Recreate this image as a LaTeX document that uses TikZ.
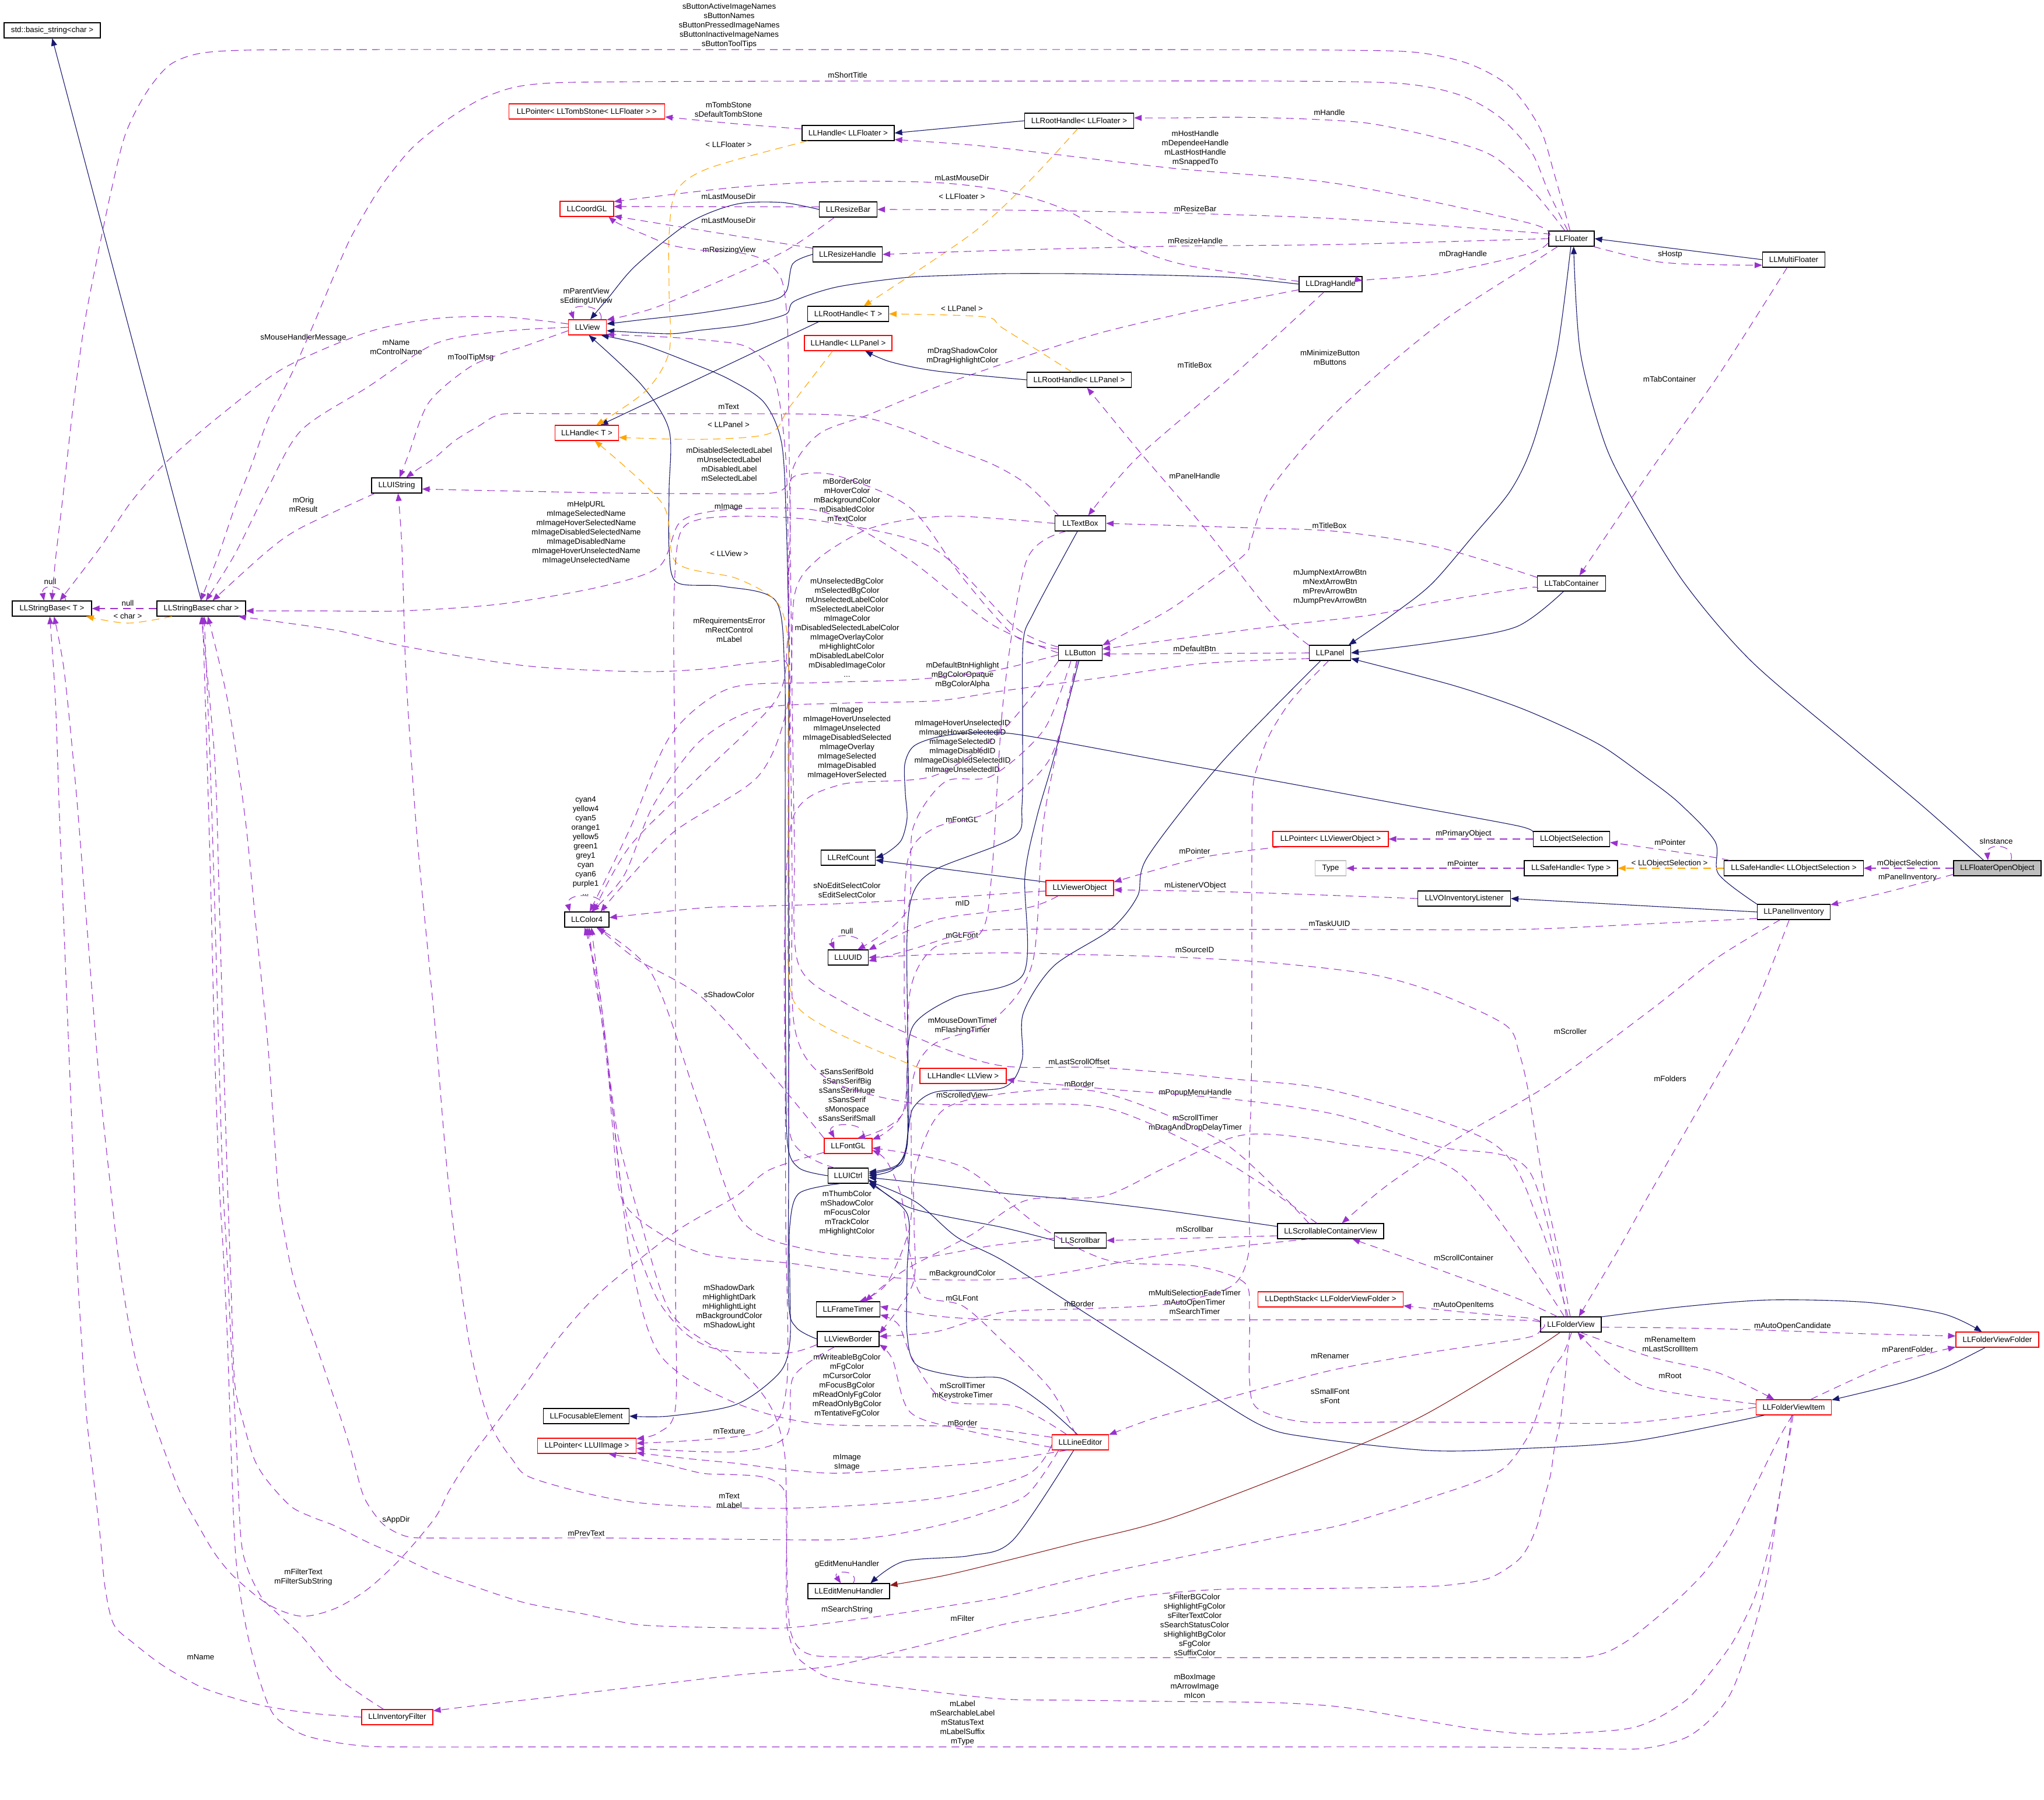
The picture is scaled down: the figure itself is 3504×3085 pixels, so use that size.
\documentclass[tikz,border=0pt]{standalone}
\usepackage{fontspec}
\setmainfont{Liberation Sans}
\usetikzlibrary{arrows.meta}
\definecolor{inhc}{HTML}{191970}
\definecolor{memc}{HTML}{9A32CD}
\definecolor{tplc}{HTML}{FFA500}
\definecolor{prvc}{HTML}{8B1A1A}
\definecolor{grayc}{HTML}{BFBFBF}
\tikzset{
 cls/.style={draw=black, line width=1.1pt, minimum height=26pt, inner sep=0pt, font=\fontsize{13.3}{16}\selectfont},
 clsr/.style={cls, draw=red},
 lbl/.style={font=\fontsize{13.3}{16}\selectfont, align=center, inner sep=0pt},
 ahead/.style={-{Triangle[length=13pt,width=10pt]}},
 inh/.style={draw=inhc, line width=1.1pt, ahead},
 prv/.style={draw=prvc, line width=1.1pt, ahead},
 mem/.style={draw=memc, line width=1.1pt, dash pattern=on 13pt off 9pt, ahead},
 tpl/.style={draw=tplc, line width=1.1pt, dash pattern=on 13pt off 9pt, ahead},
 sm/.style={smooth, tension=0.5}
}
\begin{document}
\begin{tikzpicture}[x=1pt,y=-1pt]
\useasboundingbox (0,0) rectangle (3504,3085);
\fill[white] (0,0) rectangle (3504,3085);

% ---------------- nodes
\node[cls,minimum width=165] (stdstr) at (89.5,52) {std::basic\_string<char >};
\node[cls,minimum width=136] (SBT) at (89,1043) {LLStringBase< T >};
\node[cls,minimum width=152] (SBC) at (345,1043) {LLStringBase< char >};
\node[cls,minimum width=86] (UIStr) at (680,832) {LLUIString};
\node[clsr,minimum width=267] (TombPtr) at (1006,191) {LLPointer< LLTombStone< LLFloater > >};
\node[cls,minimum width=158] (HFloater) at (1454,228) {LLHandle< LLFloater >};
\node[cls,minimum width=187] (RHFloater) at (1850,207) {LLRootHandle< LLFloater >};
\node[clsr,minimum width=92] (CoordGL) at (1006,358) {LLCoordGL};
\node[cls,minimum width=99] (ResizeBar) at (1454,359) {LLResizeBar};
\node[cls,minimum width=119] (ResizeHandle) at (1453,436) {LLResizeHandle};
\node[clsr,minimum width=65] (View) at (1007,561) {LLView};
\node[cls,minimum width=139] (RHT) at (1454,538) {LLRootHandle< T >};
\node[clsr,minimum width=150] (HPanel) at (1454,588) {LLHandle< LLPanel >};
\node[clsr,minimum width=109] (HT) at (1006,742) {LLHandle< T >};
\node[cls,minimum width=78] (Floater) at (2694,409) {LLFloater};
\node[cls,minimum width=107] (MultiFloater) at (3075,445) {LLMultiFloater};
\node[cls,minimum width=108] (DragHandle) at (2281,487) {LLDragHandle};
\node[cls,minimum width=179] (RHPanel) at (1850,651) {LLRootHandle< LLPanel >};
\node[cls,minimum width=87] (TextBox) at (1852,897) {LLTextBox};
\node[cls,minimum width=117] (TabContainer) at (2694,1000) {LLTabContainer};
\node[cls,minimum width=75] (Button) at (1852,1119) {LLButton};
\node[cls,minimum width=71] (Panel) at (2280,1119) {LLPanel};
\node[cls,minimum width=76] (Color4) at (1006,1576) {LLColor4};
\node[cls,minimum width=93] (RefCount) at (1454,1470) {LLRefCount};
\node[cls,minimum width=69] (UUID) at (1454,1641) {LLUUID};
\node[clsr,minimum width=198] (PtrVO) at (2281,1438) {LLPointer< LLViewerObject >};
\node[cls,draw=grayc,minimum width=53] (Type) at (2281,1488) {Type};
\node[cls,minimum width=159] (VOListener) at (2510,1540) {LLVOInventoryListener};
\node[clsr,minimum width=116] (ViewerObject) at (1851,1522) {LLViewerObject};
\node[cls,minimum width=131] (ObjSel) at (2694,1438) {LLObjectSelection};
\node[cls,minimum width=160] (SHType) at (2693,1488) {LLSafeHandle< Type >};
\node[cls,minimum width=239] (SHObj) at (3075,1488) {LLSafeHandle< LLObjectSelection >};
\node[cls,fill=grayc,minimum width=150] (FOO) at (3424,1488) {LLFloaterOpenObject};
\node[cls,minimum width=125] (PanelInv) at (3075,1563) {LLPanelInventory};
\node[clsr,minimum width=148] (HView) at (1651,1844) {LLHandle< LLView >};
\node[clsr,minimum width=82] (FontGL) at (1454,1964) {LLFontGL};
\node[cls,minimum width=69] (UICtrl) at (1454,2015) {LLUICtrl};
\node[cls,minimum width=182] (ScrollCont) at (2281,2110) {LLScrollableContainerView};
\node[cls,minimum width=89] (Scrollbar) at (1852,2126) {LLScrollbar};
\node[cls,minimum width=109] (FrameTimer) at (1454,2244) {LLFrameTimer};
\node[clsr,minimum width=249] (DepthStack) at (2281,2227) {LLDepthStack< LLFolderViewFolder >};
\node[cls,minimum width=106] (ViewBorder) at (1454,2295) {LLViewBorder};
\node[cls,minimum width=104] (FolderView) at (2693,2270) {LLFolderView};
\node[clsr,minimum width=142] (FVFolder) at (3424,2296) {LLFolderViewFolder};
\node[cls,minimum width=147] (Focusable) at (1005,2427) {LLFocusableElement};
\node[clsr,minimum width=169] (UIImagePtr) at (1006,2478) {LLPointer< LLUIImage >};
\node[clsr,minimum width=97] (LineEditor) at (1852,2472) {LLLineEditor};
\node[clsr,minimum width=129] (FVItem) at (3075,2412) {LLFolderViewItem};
\node[cls,minimum width=140] (EditMenu) at (1455,2727) {LLEditMenuHandler};
\node[clsr,minimum width=122] (InvFilter) at (681,2943) {LLInventoryFilter};

% ---------------- labels
\node[lbl] (Lsbtn) at (1250,44) {sButtonActiveImageNames\\sButtonNames\\sButtonPressedImageNames\\sButtonInactiveImageNames\\sButtonToolTips};
\node[lbl] (Lshort) at (1453,129) {mShortTitle};
\node[lbl] (Ltomb) at (1249,188) {mTombStone\\sDefaultTombStone};
\node[lbl] (Ltf1) at (1249,248) {< LLFloater >};
\node[lbl] (Lhand) at (2279,193) {mHandle};
\node[lbl] (Lhost) at (2049,254) {mHostHandle\\mDependeeHandle\\mLastHostHandle\\mSnappedTo};
\node[lbl] (Llmd1) at (1649,305) {mLastMouseDir};
\node[lbl] (Ltf2) at (1649,337) {< LLFloater >};
\node[lbl] (Llmd2) at (1249,337) {mLastMouseDir};
\node[lbl] (Llmd3) at (1249,378) {mLastMouseDir};
\node[lbl] (Lrbar) at (2049,358) {mResizeBar};
\node[lbl] (Lrhan) at (2049,413) {mResizeHandle};
\node[lbl] (Lrview) at (1250,429) {mResizingView};
\node[lbl] (Ldrag) at (2508,436) {mDragHandle};
\node[lbl] (Lhostp) at (2863,436) {sHostp};
\node[lbl] (Lparent) at (1005,508) {mParentView\\sEditingUIView};
\node[lbl] (Ltp1) at (1649,529) {< LLPanel >};
\node[lbl] (Lsmh) at (520,579) {sMouseHandlerMessage};
\node[lbl] (Lname) at (679,595) {mName\\mControlName};
\node[lbl] (Ldsc) at (1650,610) {mDragShadowColor\\mDragHighlightColor};
\node[lbl] (Ltip) at (807,613) {mToolTipMsg};
\node[lbl] (Lmini) at (2280,613) {mMinimizeButton\\mButtons};
\node[lbl] (Ltitle1) at (2048,626) {mTitleBox};
\node[lbl] (Ltabc) at (2862,650) {mTabContainer};
\node[lbl] (Ltext1) at (1249,697) {mText};
\node[lbl] (Ltp2) at (1249,728) {< LLPanel >};
\node[lbl] (Ldsl) at (1250,796) {mDisabledSelectedLabel\\mUnselectedLabel\\mDisabledLabel\\mSelectedLabel};
\node[lbl] (Lpanelh) at (2048,816) {mPanelHandle};
\node[lbl] (Lbcol) at (1452,857) {mBorderColor\\mHoverColor\\mBackgroundColor\\mDisabledColor\\mTextColor};
\node[lbl] (Lorig) at (520,865) {mOrig\\mResult};
\node[lbl] (Limage1) at (1249,869) {mImage};
\node[lbl] (Ltitle2) at (2279,901) {mTitleBox};
\node[lbl] (Lhelp) at (1005,913) {mHelpURL\\mImageSelectedName\\mImageHoverSelectedName\\mImageDisabledSelectedName\\mImageDisabledName\\mImageHoverUnselectedName\\mImageUnselectedName};
\node[lbl] (Ltv) at (1250,949) {< LLView >};
\node[lbl] (Lnull1) at (86,997) {null};
\node[lbl] (Ljump) at (2280,1006) {mJumpNextArrowBtn\\mNextArrowBtn\\mPrevArrowBtn\\mJumpPrevArrowBtn};
\node[lbl] (Lnull2) at (219,1034) {null};
\node[lbl] (Lchar) at (219,1056) {< char >};
\node[lbl] (Lubg) at (1452,1076) {mUnselectedBgColor\\mSelectedBgColor\\mUnselectedLabelColor\\mSelectedLabelColor\\mImageColor\\mDisabledSelectedLabelColor\\mImageOverlayColor\\mHighlightColor\\mDisabledLabelColor\\mDisabledImageColor\\...};
\node[lbl] (Lreq) at (1250,1080) {mRequirementsError\\mRectControl\\mLabel};
\node[lbl] (Ldefbtn) at (2048,1112) {mDefaultBtn};
\node[lbl] (Ldbh) at (1650,1157) {mDefaultBtnHighlight\\mBgColorOpaque\\mBgColorAlpha};
\node[lbl] (Limagep) at (1452,1273) {mImagep\\mImageHoverUnselected\\mImageUnselected\\mImageDisabledSelected\\mImageOverlay\\mImageSelected\\mImageDisabled\\mImageHoverSelected};
\node[lbl] (Limgid) at (1650,1280) {mImageHoverUnselectedID\\mImageHoverSelectedID\\mImageSelectedID\\mImageDisabledID\\mImageDisabledSelectedID\\mImageUnselectedID};
\node[lbl] (Lfontgl) at (1649,1405) {mFontGL};
\node[lbl] (Lprim) at (2509,1429) {mPrimaryObject};
\node[lbl] (Lsinst) at (3422,1442) {sInstance};
\node[lbl] (Lptr3) at (2863,1444) {mPointer};
\node[lbl] (Lcyan) at (1004,1450) {cyan4\\yellow4\\cyan5\\orange1\\yellow5\\green1\\grey1\\cyan\\cyan6\\purple1\\...};
\node[lbl] (Lptr1) at (2048,1459) {mPointer};
\node[lbl] (Lptr2) at (2508,1480) {mPointer};
\node[lbl] (Llos) at (2862,1480) {< LLObjectSelection >};
\node[lbl] (Lobjsel) at (3270,1480) {mObjectSelection};
\node[lbl] (Lpaninv) at (3270,1504) {mPanelInventory};
\node[lbl] (Llvo) at (2049,1518) {mListenerVObject};
\node[lbl] (Lnesc) at (1452,1526) {sNoEditSelectColor\\sEditSelectColor};
\node[lbl] (Lmid) at (1650,1548) {mID};
\node[lbl] (Ltask) at (2279,1583) {mTaskUUID};
\node[lbl] (Lnull3) at (1452,1596) {null};
\node[lbl] (Lglfont1) at (1649,1603) {mGLFont};
\node[lbl] (Lsrcid) at (2048,1628) {mSourceID};
\node[lbl] (Lshadow) at (1250,1705) {sShadowColor};
\node[lbl] (Lmdt) at (1650,1758) {mMouseDownTimer\\mFlashingTimer};
\node[lbl] (Lscroller) at (2692,1768) {mScroller};
\node[lbl] (Llso) at (1850,1820) {mLastScrollOffset};
\node[lbl] (Lfolders) at (2863,1849) {mFolders};
\node[lbl] (Lborder1) at (1850,1858) {mBorder};
\node[lbl] (Lpmh) at (2049,1873) {mPopupMenuHandle};
\node[lbl] (Lsview) at (1649,1877) {mScrolledView};
\node[lbl] (Lsans) at (1452,1877) {sSansSerifBold\\sSansSerifBig\\sSansSerifHuge\\sSansSerif\\sMonospace\\sSansSerifSmall};
\node[lbl] (Lstimer) at (2049,1925) {mScrollTimer\\mDragAndDropDelayTimer};
\node[lbl] (Lthumb) at (1452,2079) {mThumbColor\\mShadowColor\\mFocusColor\\mTrackColor\\mHighlightColor};
\node[lbl] (Lsbar) at (2048,2107) {mScrollbar};
\node[lbl] (Lscont) at (2509,2156) {mScrollContainer};
\node[lbl] (Lbg) at (1650,2183) {mBackgroundColor};
\node[lbl] (Lglfont2) at (1649,2225) {mGLFont};
\node[lbl] (Lmsft) at (2048,2232) {mMultiSelectionFadeTimer\\mAutoOpenTimer\\mSearchTimer};
\node[lbl] (Lborder2) at (1850,2235) {mBorder};
\node[lbl] (Laoi) at (2509,2237) {mAutoOpenItems};
\node[lbl] (Lsdark) at (1250,2240) {mShadowDark\\mHighlightDark\\mHighlightLight\\mBackgroundColor\\mShadowLight};
\node[lbl] (Laoc) at (3073,2273) {mAutoOpenCandidate};
\node[lbl] (Lrename) at (2863,2304) {mRenameItem\\mLastScrollItem};
\node[lbl] (Lpfolder) at (3270,2313) {mParentFolder};
\node[lbl] (Lrenamer) at (2280,2324) {mRenamer};
\node[lbl] (Lmroot) at (2863,2358) {mRoot};
\node[lbl] (Lwbg) at (1452,2375) {mWriteableBgColor\\mFgColor\\mCursorColor\\mFocusBgColor\\mReadOnlyFgColor\\mReadOnlyBgColor\\mTentativeFgColor};
\node[lbl] (Lstk) at (1650,2384) {mScrollTimer\\mKeystrokeTimer};
\node[lbl] (Lsfont) at (2280,2393) {sSmallFont\\sFont};
\node[lbl] (Lborder3) at (1650,2439) {mBorder};
\node[lbl] (Ltexture) at (1250,2453) {mTexture};
\node[lbl] (Limg2) at (1452,2506) {mImage\\sImage};
\node[lbl] (Ltextlabel) at (1250,2572) {mText\\mLabel};
\node[lbl] (Lappdir) at (679,2605) {sAppDir};
\node[lbl] (Lprev) at (1005,2628) {mPrevText};
\node[lbl] (Lgemh) at (1452,2681) {gEditMenuHandler};
\node[lbl] (Lfiltertext) at (520,2703) {mFilterText\\mFilterSubString};
\node[lbl] (Lsearch) at (1452,2759) {mSearchString};
\node[lbl] (Lfilter) at (1650,2774) {mFilter};
\node[lbl] (Lsfbg) at (2048,2785) {sFilterBGColor\\sHighlightFgColor\\sFilterTextColor\\sSearchStatusColor\\sHighlightBgColor\\sFgColor\\sSuffixColor};
\node[lbl] (Lmname2) at (344,2840) {mName};
\node[lbl] (Lbox) at (2048,2890) {mBoxImage\\mArrowImage\\mIcon};
\node[lbl] (Lmlabel) at (1650,2953) {mLabel\\mSearchableLabel\\mStatusText\\mLabelSuffix\\mType};

% ---------------- inheritance edges
\draw[inh] (SBC.north) -- (stdstr.south);
\draw[inh] plot[sm] coordinates {(ResizeBar.west) (1340,347) (1262,350) (1181,382) (1090,455) (1044,509) (View.70)};
\draw[inh] plot[sm] coordinates {(ResizeHandle.west) (1359,452) (1348,499) (1319,516) (1204,536) (1100,548) (View.10)};
\draw[inh] plot[sm] coordinates {(DragHandle.west) (2120,476) (2007,472) (1900,470) (1835,469) (1720,469) (1630,472) (1549,476) (1434,492) (1362,516) (1348,538) (1300,552) (1262,559) (1200,566) (1147,572) (View.-10)};
\draw[inh] plot[sm] coordinates {(UICtrl.west) (1370,2002) (1350,1960) (1347,1800) (1346,1550) (1346,1300) (1345,1150) (1330,1030) (1240,1005) (1160,998) (1147,940) (1147,840) (1147,737) (1100,660) (View.-80)};
\draw[inh] plot[sm] coordinates {(ViewBorder.west) (1365,2275) (1352,2230) (1352,2000) (1352,1700) (1352,1400) (1352,1100) (1348,900) (1340,760) (1310,690) (1250,650) (1180,620) (1100,590) (View.-30)};
\draw[inh] (RHT.-165) -- (HT.30);
\draw[inh] plot[sm] coordinates {(RHPanel.west) (1606,636) (1526,620) (HPanel.-25)};
\draw[inh] (RHFloater.west) -- (HFloater.east);
\draw[inh] (MultiFloater.west) -- (Floater.east);
\draw[inh] plot[sm] coordinates {(FOO.150) (3300,1385) (3176,1281) (3003,1134) (2888,1000) (2796,851) (2750,757) (2709,603) (Floater.-75)};
\draw[inh] plot[sm] coordinates {(TabContainer.-135) (2600,1074) (2466,1100) (Panel.east)};
\draw[inh] plot[sm] coordinates {(Floater.-95) (2669,603) (2629,757) (2590,840) (2524,920) (2455,1000) (2392,1050) (Panel.23)};
\draw[inh] plot[sm] coordinates {(PanelInv.168) (2946,1498) (2940,1442) (2877,1375) (2816,1328) (2750,1281) (2686,1248) (2600,1211) (2489,1174) (Panel.-15)};
\draw[inh] plot[sm] coordinates {(ObjSel.170) (2600,1415) (2400,1378) (2200,1341) (2000,1305) (1800,1268) (1720,1256) (1650,1257) (1600,1265) (1565,1280) (1551,1310) (1552,1360) (1555,1402) (1545,1440) (1520,1462) (RefCount.east)};
\draw[inh] (ViewerObject.170) -- (RefCount.-5);
\draw[inh] plot[sm] coordinates {(Panel.-140) (2093,1308) (1967,1469) (1950,1536) (1904,1593) (1806,1656) (1754,1737) (1752,1817) (1720,1864) (1606,1871) (1566,1898) (1557,1938) (1545,1995) (UICtrl.5)};
\draw[inh] plot[sm] coordinates {(TextBox.-110) (1772,1050) (1754,1100) (1753,1240) (1752,1380) (1738,1435) (1606,1489) (1566,1529) (1555,1603) (1556,1770) (1557,1938) (1540,1995) (UICtrl.10)};
\draw[inh] plot[sm] coordinates {(Button.-100) (1806,1301) (1777,1402) (1757,1502) (1754,1670) (1635,1710) (1566,1757) (1555,1837) (1555,1964) (1530,2005) (UICtrl.0)};
\draw[inh] plot[sm] coordinates {(ScrollCont.175) (2000,2075) (1850,2057) (1720,2045) (1600,2030) (UICtrl.-5)};
\draw[inh] plot[sm] coordinates {(Scrollbar.west) (1720,2104) (1560,2070) (UICtrl.-10)};
\draw[inh] plot[sm] coordinates {(LineEditor.110) (1789,2407) (1720,2363) (1652,2360) (1572,2340) (1555,2286) (1555,2180) (1555,2080) (UICtrl.-20)};
\draw[inh] plot[sm] coordinates {(FVItem.-165) (2800,2470) (2600,2483) (2449,2486) (2248,2464) (2156,2440) (2000,2340) (1860,2250) (1720,2161) (1640,2120) (1570,2060) (UICtrl.-15)};
\draw[inh] plot[sm] coordinates {(UICtrl.-135) (1370,2045) (1354,2100) (1354,2200) (1354,2300) (1336,2353) (1262,2407) (1147,2427) (Focusable.east)};
\draw[inh] (PanelInv.west) -- (VOListener.east);
\draw[inh] plot[sm] coordinates {(FVFolder.-147) (3332,2345) (3260,2370) (FVItem.11)};
\draw[inh] plot[sm] coordinates {(FolderView.14) (2880,2240) (3032,2228) (3200,2232) (3332,2252) (FVFolder.153)};
\draw[prv] plot[sm] coordinates {(FolderView.-144) (2620,2319) (2438,2427) (2271,2501) (2007,2602) (1850,2643) (1720,2676) (1620,2700) (EditMenu.8)};
\draw[inh] plot[sm] coordinates {(LineEditor.-130) (1737,2639) (1664,2666) (1549,2676) (EditMenu.20)};

% ---------------- template edges
\draw[tpl] plot[sm] coordinates {(SBC.-165) (219,1068) (SBT.-13)};
\draw[tpl] plot[sm] coordinates {(HFloater.-169) (1216,288) (1159,328) (1147,402) (1147,500) (1147,603) (1107,670) (HT.40)};
\draw[tpl] plot[sm] coordinates {(RHFloater.-100) (1760,315) (1664,402) (RHT.27)};
\draw[tpl] plot[sm] coordinates {(RHPanel.133) (1720,563) (1687,543) (RHT.east)};
\draw[tpl] plot[sm] coordinates {(HPanel.-153) (1354,697) (1319,743) (1204,753) (HT.-8)};
\draw[tpl] plot[sm] coordinates {(HView.170) (1434,1770) (1365,1723) (1351,1650) (1351,1450) (1351,1250) (1351,1100) (1331,1031) (1262,991) (1159,964) (1136,864) (HT.-45)};
\draw[tpl] (SHObj.west) -- (SHType.east);

% ---------------- member edges
\draw[mem] plot[sm] coordinates {(Floater.100) (2665,300) (2640,220) (2590,150) (2520,110) (2430,90) (2300,86) (2000,85) (1500,85) (1000,85) (600,85) (420,86) (340,92) (290,112) (250,160) (215,230) (190,330) (165,450) (144,560) (125,700) (108,850) (95,960) (SBT.north)};
\draw[mem] plot[sm] coordinates {(Floater.115) (2655,330) (2625,260) (2570,200) (2500,162) (2400,143) (2200,139) (1800,139) (1400,139) (1100,140) (950,142) (880,150) (820,172) (760,210) (706,254) (660,310) (631,355) (600,410) (574,469) (540,550) (505,630) (480,680) (459,720) (430,800) (402,871) (375,950) (SBC.95)};
\draw[mem] plot[sm] coordinates {(View.170) (860,543) (746,546) (631,569) (488,630) (380,710) (287,790) (225,860) (172,938) (SBT.45)};
\draw[mem] plot[sm] coordinates {(View.180) (860,568) (746,589) (631,663) (517,737) (459,837) (402,951) (SBC.60)};
\draw[mem] plot[sm] coordinates {(View.-170) (900,593) (860,606) (804,630) (735,690) (700,780) (UIStr.70)};
\draw[mem] plot[sm] coordinates {(TextBox.160) (1760,830) (1700,795) (1620,765) (1549,735) (1480,715) (1400,710) (1250,709) (1100,709) (950,709) (860,710) (821,730) (780,755) (746,784) (715,805) (UIStr.40)};
\draw[mem] plot[sm] coordinates {(Button.170) (1740,1090) (1650,990) (1560,870) (1434,815) (1365,815) (1330,844) (1200,846) (1050,845) (900,842) (800,840) (UIStr.-8)};
\draw[mem] plot[sm] coordinates {(Button.180) (1700,1070) (1560,960) (1420,880) (1308,871) (1216,877) (1164,897) (1130,971) (1032,1005) (860,1035) (689,1047) (550,1047) (SBC.-3)};
\draw[mem] plot[sm] coordinates {(FVItem.-95) (3065,2480) (3050,2568) (3030,2700) (3003,2804) (2969,2898) (2934,2945) (2888,2979) (2813,2997) (2700,2996) (2500,2994) (2100,2994) (1700,2994) (1300,2994) (900,2994) (700,2994) (631,2993) (574,2986) (517,2972) (470,2940) (445,2880) (425,2804) (410,2720) (402,2636) (395,2450) (390,2300) (383,2150) (376,2030) (368,1800) (362,1550) (355,1300) (SBC.-80)};
\draw[mem] plot[sm] coordinates {(HFloater.175) (1260,212) (TombPtr.-4)};
\draw[mem] plot[sm] coordinates {(Floater.130) (2630,330) (2560,268) (2480,240) (2351,212) (2240,204) (2122,201) (2030,202) (RHFloater.3)};
\draw[mem] plot[sm] coordinates {(Floater.175) (2620,382) (2294,315) (2007,288) (1720,254) (1620,245) (HFloater.-8)};
\draw[mem] plot[sm] coordinates {(Floater.170) (2620,398) (2294,375) (2007,365) (1720,360) (ResizeBar.east)};
\draw[mem] plot[sm] coordinates {(Floater.west) (2294,419) (2007,422) (1720,429) (ResizeHandle.east)};
\draw[mem] plot[sm] coordinates {(Floater.-170) (2620,435) (2466,469) (2351,479) (DragHandle.6)};
\draw[mem] plot[sm] coordinates {(Floater.-150) (2620,455) (2466,556) (2294,703) (2179,837) (2145,924) (2133,951) (2053,1011) (1996,1050) (Button.19)};
\draw[mem] plot[sm] coordinates {(DragHandle.-130) (2122,636) (1950,784) (TextBox.45)};
\draw[mem] plot[sm] coordinates {(Panel.160) (2179,1050) (2064,904) (1950,770) (RHPanel.-45)};
\draw[mem] plot[sm] coordinates {(TabContainer.170) (2466,938) (2294,911) (2122,904) (TextBox.east)};
\draw[mem] plot[sm] coordinates {(TabContainer.-170) (2620,1007) (2466,1031) (2351,1054) (2179,1074) (Button.10)};
\draw[mem] plot[sm] coordinates {(MultiFloater.-130) (2946,643) (2831,804) (TabContainer.45)};
\draw[mem] plot[sm] coordinates {(Floater.-20) (2831,447) (2905,453) (MultiFloater.-170)};
\draw[mem] (Panel.west) -- (Button.-3);
\draw[mem] plot[sm] coordinates {(Panel.-165) (2064,1137) (1892,1161) (1720,1184) (1606,1201) (1450,1205) (1300,1215) (1200,1270) (1120,1380) (1070,1500) (Color4.60)};
\draw[mem] plot[sm] coordinates {(ViewerObject.-175) (1760,1529) (1600,1540) (1434,1549) (1300,1553) (1204,1556) (Color4.5)};
\draw[mem] (Color4.25) .. controls (1045,1528) and (968,1528) .. (Color4.155);
\draw[mem] (ObjSel.west) -- (PtrVO.east);
\draw[mem] plot[sm] coordinates {(PtrVO.-171) (2064,1469) (ViewerObject.10)};
\draw[mem] (SHType.west) -- (Type.east);
\draw[mem] plot[sm] coordinates {(VOListener.west) (2122,1529) (ViewerObject.-3)};
\draw[mem] plot[sm] coordinates {(PanelInv.-170) (2831,1583) (2600,1593) (2300,1593) (2000,1593) (1720,1593) (1640,1603) (1570,1625) (UUID.-10)};
\draw[mem] plot[sm] coordinates {(ViewerObject.-160) (1760,1556) (1606,1576) (UUID.20)};
\draw[mem] (UUID.30) .. controls (1490,1598) and (1418,1598) .. (UUID.150);
\draw[mem] plot[sm] coordinates {(FolderView.95) (2670,2140) (2646,2030) (2620,1871) (2604,1804) (2581,1757) (2466,1703) (2351,1670) (2179,1650) (2007,1640) (1850,1636) (1720,1633) (1600,1636) (UUID.0)};
\draw[mem] plot[sm] coordinates {(Button.-110) (1800,1300) (1700,1390) (1600,1420) (1555,1480) (1550,1700) (1552,1900) (FontGL.40)};
\draw[mem] plot[sm] coordinates {(TextBox.-150) (1760,960) (1720,1200) (1700,1500) (1680,1600) (1600,1625) (1560,1700) (1550,1900) (FontGL.15)};
\draw[mem] (FontGL.30) .. controls (1495,1922) and (1415,1922) .. (FontGL.150);
\draw[mem] plot[sm] coordinates {(FontGL.162) (1319,1837) (1204,1710) (1090,1643) (Color4.-35)};
\draw[mem] plot[sm] coordinates {(Button.-115) (1790,1400) (1770,1650) (1700,1750) (1600,1790) (1565,1850) (1562,1980) (1560,2100) (1520,2200) (FrameTimer.35)};
\draw[mem] plot[sm] coordinates {(ScrollCont.150) (2100,1990) (1900,1900) (1700,1893) (1560,1890) (1420,1850) (1362,1760) (1358,1500) (1355,1250) (1352,1000) (1348,800) (1335,680) (1319,630) (1290,600) (1262,589) (1200,582) (1147,578) (View.-20)};
\draw[mem] plot[sm] coordinates {(FolderView.110) (2640,2100) (2560,1960) (2294,1871) (2122,1850) (1892,1830) (1720,1827) (1600,1790) (1450,1720) (1368,1650) (1362,1450) (1358,1200) (1355,950) (1352,700) (1350,560) (1340,480) (1308,445) (1260,432) (1204,429) (1150,420) (1100,400) (1060,383) (CoordGL.-20)};
\draw[mem] plot[sm] coordinates {(FolderView.120) (2620,2005) (2466,1965) (2294,1911) (2122,1885) (1892,1866) (HView.-5)};
\draw[mem] plot[sm] coordinates {(ScrollCont.160) (2100,1960) (1900,1875) (1760,1870) (1620,1900) (1570,2000) (1567,2100) (1565,2200) (ViewBorder.10)};
\draw[mem] plot[sm] coordinates {(FolderView.130) (2500,2010) (2300,1960) (2133,1945) (2000,2000) (1892,2050) (1760,2057) (1664,2117) (1549,2178) (FrameTimer.25)};
\draw[mem] (ScrollCont.-175) -- (Scrollbar.east);
\draw[mem] plot[sm] coordinates {(ScrollCont.-160) (2000,2150) (1760,2190) (1549,2191) (1354,2165) (1216,2151) (1136,2117) (1067,2057) (1050,1930) (1040,1800) (1025,1680) (Color4.-60)};
\draw[mem] plot[sm] coordinates {(Scrollbar.175) (1700,2135) (1549,2158) (1377,2140) (1270,2090) (1200,1900) (1118,1670) (Color4.-40)};
\draw[mem] plot[sm] coordinates {(ViewBorder.-170) (1348,2319) (1233,2313) (1176,2286) (1130,2232) (1101,2165) (1078,2097) (1064,2030) (1050,1900) (1040,1800) (1020,1680) (Color4.-75)};
\draw[mem] plot[sm] coordinates {(LineEditor.170) (1650,2445) (1400,2440) (1250,2400) (1130,2320) (1080,2150) (1050,1900) (1025,1700) (Color4.-90)};
\draw[mem] plot[sm] coordinates {(LineEditor.150) (1740,2410) (1620,2400) (1565,2330) (1540,2270) (FrameTimer.-10)};
\draw[mem] plot[sm] coordinates {(LineEditor.120) (1800,2380) (1720,2300) (1650,2238) (1580,2220) (1560,2150) (1545,2050) (1520,1990) (FontGL.-10)};
\draw[mem] plot[sm] coordinates {(LineEditor.-170) (1650,2450) (1560,2420) (1530,2330) (ViewBorder.-10)};
\draw[mem] plot[sm] coordinates {(ViewBorder.-150) (1360,2360) (1348,2461) (1262,2488) (UIImagePtr.-3)};
\draw[mem] plot[sm] coordinates {(LineEditor.-150) (1700,2505) (1560,2517) (1434,2525) (1340,2518) (1262,2508) (1180,2500) (UIImagePtr.-8)};
\draw[mem] plot[sm] coordinates {(Button.165) (1740,1075) (1600,940) (1420,895) (1300,885) (1200,890) (1164,920) (1155,1050) (1157,1300) (1158,1600) (1158,1900) (1158,2200) (1158,2412) (1130,2455) (UIImagePtr.8)};
\draw[mem] plot[sm] coordinates {(Button.-160) (1720,1250) (1600,1330) (1440,1345) (1360,1400) (1345,1600) (1346,1850) (1347,2100) (1348,2380) (1300,2455) (UIImagePtr.3)};
\draw[mem] plot[sm] coordinates {(Button.-140) (1790,1250) (1700,1330) (1620,1340) (1565,1420) (1555,1560) (UUID.40)};
\draw[mem] plot[sm] coordinates {(TextBox.west) (1650,885) (1560,890) (1480,910) (1400,960) (1362,1020) (1352,1200) (1300,1330) (1150,1430) (Color4.30)};
\draw[mem] plot[sm] coordinates {(Button.-175) (1700,1150) (1560,1165) (1400,1170) (1250,1180) (1150,1260) (1080,1420) (Color4.70)};
\draw[mem] plot[sm] coordinates {(DragHandle.-170) (2064,529) (1892,569) (1760,610) (1606,663) (1491,710) (1405,743) (1359,804) (1355,900) (1352,1000) (1350,1100) (1330,1200) (1200,1330) (1080,1450) (Color4.50)};
\draw[mem] plot[sm] coordinates {(UICtrl.150) (1356,1950) (1354,1750) (1353,1550) (1352,1350) (1352,1150) (1319,1134) (1204,1147) (1090,1151) (900,1141) (689,1107) (574,1080) (SBC.-12)};
\draw[mem] plot[sm] coordinates {(UIStr.-160) (517,904) (459,944) (SBC.35)};
\draw[mem] (SBC.west) -- (SBT.east);
\draw[mem] (SBT.30) .. controls (110,1000) and (70,1000) .. (SBT.135);
\draw[mem] (View.30) .. controls (1035,520) and (975,520) .. (View.150);
\draw[mem] plot[sm] coordinates {(DragHandle.175) (2036,455) (1938,422) (1823,358) (1720,327) (1606,313) (1434,311) (1262,321) (CoordGL.15)};
\draw[mem] (ResizeBar.175) -- (CoordGL.5);
\draw[mem] plot[sm] coordinates {(ResizeHandle.170) (1204,395) (CoordGL.-15)};
\draw[mem] plot[sm] coordinates {(ResizeBar.-150) (1348,429) (1233,482) (1118,529) (View.21)};
\draw[mem] plot[sm] coordinates {(LineEditor.-160) (1760,2562) (1680,2595) (1606,2615) (1520,2632) (1434,2639) (1250,2638) (1050,2636) (900,2636) (760,2636) (700,2634) (660,2615) (635,2585) (620,2555) (600,2480) (574,2400) (540,2300) (505,2198) (485,2100) (476,2030) (460,1800) (440,1600) (420,1400) (390,1200) (SBC.-50)};
\draw[mem] plot[sm] coordinates {(LineEditor.-175) (1760,2528) (1606,2568) (1348,2585) (1090,2575) (917,2535) (878,2501) (838,2434) (804,2299) (769,2030) (745,1750) (718,1469) (705,1300) (695,1134) (689,938) (UIStr.-80)};
\draw[mem] plot[sm] coordinates {(FontGL.-165) (1319,2005) (1262,2050) (1158,2111) (1032,2212) (960,2290) (900,2373) (850,2440) (804,2501) (770,2555) (746,2601) (689,2669) (631,2723) (574,2757) (517,2770) (460,2750) (402,2703) (370,2665) (344,2622) (310,2560) (287,2501) (255,2410) (230,2319) (205,2170) (189,2030) (170,1850) (150,1600) (130,1350) (110,1150) (SBT.-75)};
\draw[mem] plot[sm] coordinates {(InvFilter.west) (540,2937) (459,2925) (400,2910) (344,2891) (280,2855) (230,2817) (195,2784) (180,2720) (172,2636) (160,2530) (149,2434) (140,2300) (132,2165) (126,2000) (118,1800) (110,1600) (102,1400) (95,1200) (SBT.-105)};
\draw[mem] plot[sm] coordinates {(InvFilter.150) (620,2905) (574,2871) (517,2804) (470,2760) (448,2737) (425,2690) (413,2636) (405,2470) (396,2299) (389,2150) (382,2030) (375,1800) (368,1550) (360,1300) (SBC.-70)};
\draw[mem] plot[sm] coordinates {(FolderView.-85) (2680,2320) (2658,2353) (2640,2410) (2620,2461) (2581,2514) (2530,2540) (2466,2562) (2380,2590) (2294,2615) (2200,2633) (2122,2649) (2000,2674) (1892,2696) (1800,2717) (1720,2737) (1640,2750) (1549,2764) (1450,2778) (1348,2790) (1262,2790) (1170,2788) (1090,2784) (1000,2766) (900,2747) (804,2716) (745,2695) (689,2669) (630,2643) (574,2615) (535,2600) (499,2582) (460,2540) (436,2501) (415,2430) (402,2366) (396,2200) (390,2030) (383,1800) (376,1550) (368,1300) (SBC.-90)};
\draw[mem] plot[sm] coordinates {(FolderView.-100) (2683,2360) (2675,2434) (2665,2480) (2658,2528) (2645,2575) (2635,2615) (2620,2650) (2600,2676) (2552,2705) (2480,2717) (2409,2720) (2300,2722) (2200,2723) (2122,2723) (2040,2727) (1950,2737) (1835,2763) (1720,2784) (1580,2820) (1434,2854) (1350,2863) (1262,2871) (1150,2884) (1032,2898) (950,2908) (860,2918) (800,2925) (InvFilter.10)};
\draw[mem] plot[sm] coordinates {(FVItem.-100) (3055,2455) (3038,2488) (3015,2535) (2992,2582) (2970,2625) (2946,2663) (2920,2697) (2888,2730) (2855,2760) (2819,2790) (2790,2812) (2756,2831) (2720,2840) (2686,2841) (2600,2841) (2400,2841) (2200,2841) (2000,2841) (1800,2841) (1600,2840) (1480,2840) (1400,2838) (1370,2825) (1355,2795) (1350,2737) (1348,2620) (1346,2500) (1330,2430) (1300,2380) (1240,2320) (1150,2250) (1100,2100) (1060,1950) (1040,1800) (1025,1680) (Color4.-105)};
\draw[mem] plot[sm] coordinates {(FVItem.-105) (3061,2501) (3040,2620) (3020,2700) (3003,2750) (2970,2815) (2934,2864) (2895,2910) (2850,2940) (2810,2958) (2773,2965) (2700,2970) (2620,2972) (2520,2962) (2420,2945) (2294,2925) (2179,2918) (2000,2916) (1850,2914) (1720,2912) (1580,2897) (1434,2878) (1395,2862) (1365,2838) (1352,2800) (1348,2770) (1348,2680) (1348,2568) (1330,2540) (1300,2530) (1250,2527) (1204,2525) (1140,2510) (UIImagePtr.-20)};
\draw[mem] plot[sm] coordinates {(FolderView.-175) (2620,2292) (2450,2318) (2294,2346) (2180,2375) (2064,2407) (1980,2430) (LineEditor.15)};
\draw[mem] plot[sm] coordinates {(FolderView.-170) (2620,2263) (2300,2262) (2000,2262) (1720,2262) (1600,2255) (FrameTimer.5)};
\draw[mem] plot[sm] coordinates {(Panel.-100) (2237,1174) (2208,1208) (2179,1254) (2162,1295) (2148,1348) (2146,1469) (2146,1670) (2145,1871) (2142,1960) (2141,2060) (2140,2150) (2110,2205) (2000,2235) (1860,2243) (1720,2249) (1606,2282) (ViewBorder.5)};
\draw[mem] plot[sm] coordinates {(FVItem.west) (2800,2438) (2600,2438) (2400,2437) (2237,2437) (2156,2414) (2142,2366) (2142,2252) (2133,2198) (2050,2170) (1900,2160) (1780,2100) (1650,2000) (FontGL.-5)};
\draw[mem] plot[sm] coordinates {(FolderView.150) (2600,2225) (2450,2170) (ScrollCont.-20)};
\draw[mem] plot[sm] coordinates {(FolderView.175) (2620,2259) (2500,2248) (DepthStack.-5)};
\draw[mem] plot[sm] coordinates {(PanelInv.-150) (2946,1640) (2831,1730) (2658,1857) (2500,1950) (2380,2030) (ScrollCont.35)};
\draw[mem] plot[sm] coordinates {(PanelInv.-120) (3003,1737) (2917,1891) (2830,2042) (2773,2144) (FolderView.45)};
\draw[mem] plot[sm] coordinates {(FolderView.-5) (2880,2276) (3003,2279) (3200,2286) (FVFolder.175)};
\draw[mem] plot[sm] coordinates {(FolderView.-40) (2831,2326) (2946,2353) (FVItem.158)};
\draw[mem] plot[sm] coordinates {(FVItem.175) (2831,2380) (2761,2340) (FolderView.-50)};
\draw[mem] plot[sm] coordinates {(FVItem.25) (3234,2340) (FVFolder.-170)};
\draw[mem] (FOO.30) .. controls (3455,1445) and (3405,1445) .. (FOO.140);
\draw[mem] (FOO.west) -- (SHObj.east);
\draw[mem] plot[sm] coordinates {(FOO.-172) (3234,1529) (PanelInv.11)};
\draw[mem] plot[sm] coordinates {(SHObj.173) (2923,1467) (ObjSel.-5)};
\draw[mem] (EditMenu.60) .. controls (1475,2690) and (1425,2690) .. (EditMenu.135);
\end{tikzpicture}
\end{document}
